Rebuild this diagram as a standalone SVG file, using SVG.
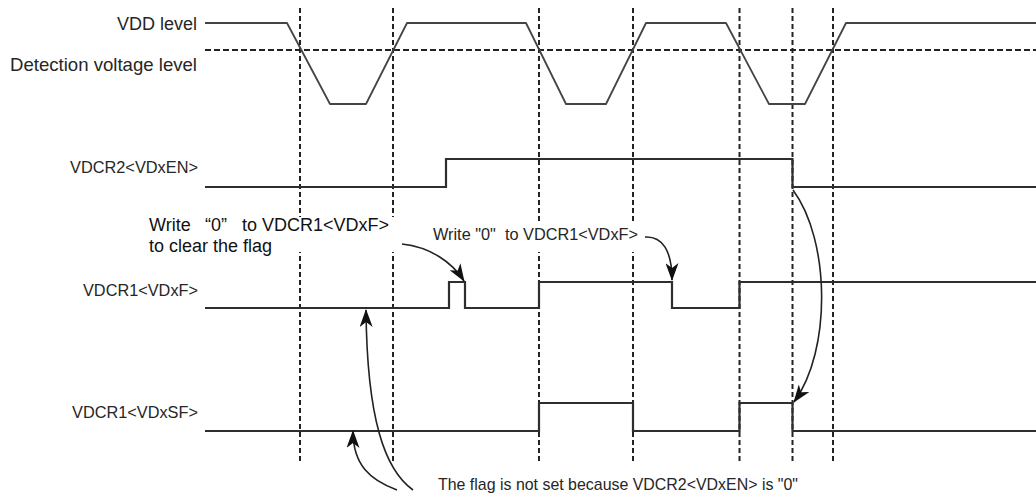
<svg xmlns="http://www.w3.org/2000/svg" width="1036" height="494" viewBox="0 0 1036 494">
  <style>
    .lbl { font-family: "Liberation Sans", Arial, sans-serif; fill: #262626; }
    .note { font-family: "Liberation Sans", Arial, sans-serif; fill: #111; }
    .grid { stroke: #222; stroke-width: 2; stroke-dasharray: 5 3; fill: none; }
    .thr { stroke: #222; stroke-width: 2; stroke-dasharray: 6 3; fill: none; }
    .wave { stroke: #444; stroke-width: 1.8; fill: none; stroke-linejoin: round; }
    .sig { stroke: #2e2e2e; stroke-width: 2.2; fill: none; stroke-linejoin: miter; }
    .arrow { stroke: #222; stroke-width: 1.6; fill: none; marker-end: url(#ah); }
    .mask { fill: #ffffff; stroke: none; }
  </style>
  <defs>
    <marker id="ah" viewBox="0 0 18 13" refX="17" refY="6.5" markerWidth="18" markerHeight="13" markerUnits="userSpaceOnUse" orient="auto">
      <path d="M0,0 L18,6.5 L0,13 L5,6.5 Z" fill="#111"/>
    </marker>
  </defs>
  <rect width="1036" height="494" fill="#ffffff"/>

  <g id="time-markers">
    <line class="grid" x1="300" y1="8" x2="300" y2="462"/>
    <line class="grid" x1="393" y1="8" x2="393" y2="462"/>
    <line class="grid" x1="539" y1="8" x2="539" y2="462"/>
    <line class="grid" x1="633" y1="8" x2="633" y2="462"/>
    <line class="grid" x1="739.5" y1="8" x2="739.5" y2="462"/>
    <line class="grid" x1="792.5" y1="8" x2="792.5" y2="462"/>
    <line class="grid" x1="833" y1="8" x2="833" y2="462"/>
  </g>

  <g id="vdd">
    <text class="lbl" x="197" y="30" font-size="18" text-anchor="end">VDD level</text>
    <text class="lbl" x="10" y="70.5" font-size="18.5" textLength="187" lengthAdjust="spacingAndGlyphs">Detection voltage level</text>
    <line class="thr" x1="205" y1="50" x2="1036" y2="50"/>
    <path class="wave" d="M205,23 L287,23 L330,104 L366,104 L407,23 L526,23 L566,104 L606,104 L646,23 L726,23 L769,104 L805,104 L846,23 L1036,23"/>
  </g>

  <g id="vdxen">
    <text class="lbl" x="70" y="173" font-size="17" textLength="128" lengthAdjust="spacingAndGlyphs">VDCR2&lt;VDxEN&gt;</text>
    <path class="sig" d="M205,187 H446 V159 H792.5 V187 H1036"/>
  </g>

  <g id="vdxf">
    <text class="lbl" x="83" y="295.7" font-size="17" textLength="115" lengthAdjust="spacingAndGlyphs">VDCR1&lt;VDxF&gt;</text>
    <path class="sig" d="M205,308 H449 V282 H465 V308 H539 V282 H672 V308 H739.5 V282 H1036"/>
  </g>

  <g id="vdxsf">
    <text class="lbl" x="72" y="418" font-size="17" textLength="126" lengthAdjust="spacingAndGlyphs">VDCR1&lt;VDxSF&gt;</text>
    <path class="sig" d="M205,431 H539 V403 H633 V431 H739.5 V403 H792.5 V431 H1036"/>
  </g>

  <g id="note-clear">
    <rect class="mask" x="145" y="217" width="251" height="35"/>
    <text class="note" font-size="18"><tspan x="149" y="231">Write</tspan><tspan x="205" y="231">“0”</tspan><tspan x="242" y="231">to VDCR1&lt;VDxF&gt;</tspan></text>
    <text class="note" x="149" y="252" font-size="18">to clear the flag</text>
  </g>

  <g id="note-write">
    <rect class="mask" x="430" y="222" width="212" height="30"/>
    <text class="lbl" x="433" y="240" font-size="17" textLength="205" lengthAdjust="spacingAndGlyphs">Write "0"&#160; to VDCR1&lt;VDxF&gt;</text>
  </g>

  <g id="note-notset">
    <text class="lbl" x="438" y="490" font-size="17" textLength="360" lengthAdjust="spacingAndGlyphs">The flag is not set because VDCR2&lt;VDxEN&gt; is "0"</text>
  </g>

  <g id="connectors">
    <path class="arrow" d="M402,244 C430,247 452,262 464,281"/>
    <path class="arrow" d="M645,237 C662,236 672,250 672,280"/>
    <path class="arrow" d="M793,190 C830,240 832,350 794,402"/>
    <path class="arrow" d="M397,490 C370,480 353,465 353,431"/>
    <path class="arrow" d="M413,490 C385,470 367,420 366,310"/>
  </g>
</svg>
